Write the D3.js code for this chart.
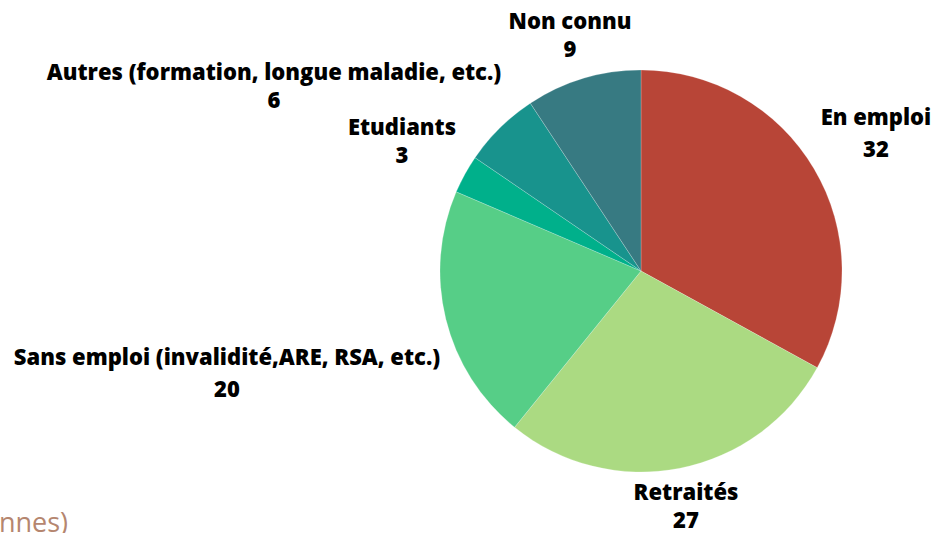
<!DOCTYPE html>
<html>
<head>
<meta charset="utf-8">
<script src="https://cdn.jsdelivr.net/npm/d3@7"></script>
<style>
  body { margin: 0; background: #fff; }
  text { font-family: "Open Sans", sans-serif; }
</style>
</head>
<body>
<svg id="chart"></svg>
<script>
const categories = ["En emploi", "Retraités", "Sans emploi (invalidité,ARE, RSA, etc.)", "Etudiants", "Autres (formation, longue maladie, etc.)", "Non connu"];
const values = [32, 27, 20, 3, 6, 9];
const colors = ["#b84537", "#abda82", "#56ce87", "#00b08b", "#18938d", "#377a82"];
// label anchors (centre of the two lines)
const labelPos = [[876, 134], [686, 507], [227, 374], [402, 142], [274, 87], [570, 36]];
const lineGap = [32, 28, 32, 28, 28, 28];

const W = 936, H = 533;
const cx = 641, cy = 271, radius = 201;

function init() {
  const svg = d3.select("#chart").attr("width", W).attr("height", H);

  const data = categories.map((c, i) => ({ name: c, value: values[i], color: colors[i], pos: labelPos[i], gap: lineGap[i] }));

  const pie = d3.pie().value((d) => d.value).sort(null);
  const arc = d3.arc().innerRadius(0).outerRadius(radius);

  const g = svg.append("g").attr("transform", `translate(${cx}, ${cy})`);
  g.selectAll("path.slice")
    .data(pie(data))
    .enter()
    .append("path")
    .attr("class", "slice")
    .attr("d", arc)
    .style("fill", (d) => d.data.color)
    .style("stroke", "rgba(255,255,255,0.35)")
    .style("stroke-width", 0.6);

  const labels = svg.selectAll("g.label")
    .data(data)
    .enter()
    .append("g")
    .attr("class", "label")
    .attr("transform", (d) => `translate(${d.pos[0]}, ${d.pos[1]})`);
  labels.append("text")
    .attr("text-anchor", "middle")
    .attr("y", (d) => -d.gap / 2 + 7)
    .style("font-size", "22px")
    .style("font-weight", 800)
    .text((d) => d.name);
  labels.append("text")
    .attr("text-anchor", "middle")
    .attr("y", (d) => d.gap / 2 + 7)
    .style("font-size", "22px")
    .style("font-weight", 800)
    .text((d) => d.value);

  svg.append("text")
    .attr("x", 68)
    .attr("y", 532)
    .attr("text-anchor", "end")
    .style("font-size", "27px")
    .style("fill", "#b5866f")
    .text("(en nombre de personnes)");
}

init();
</script>
</body>
</html>
